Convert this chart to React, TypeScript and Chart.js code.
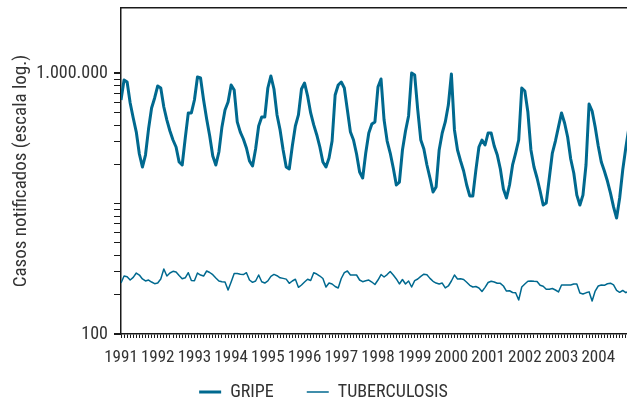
import React, { useEffect, useRef } from 'react';
import { Chart, registerables } from 'chart.js';

Chart.register(...registerables);

const years = ['1991', '1992', '1993', '1994', '1995', '1996', '1997', '1998', '1999', '2000', '2001', '2002', '2003', '2004'];
const seriesNames = ['GRIPE', 'TUBERCULOSIS'];

// Monthly notified cases, Jan 1991 - Dec 2004
const gripe = [
  388000, 787000, 733000, 349000, 206000, 125000, 57700, 36400, 55600, 139000, 293000, 417000,
  637000, 593000, 303000, 191000, 130000, 94500, 73800, 43400, 39100, 101000, 246000, 246000,
  388000, 875000, 843000, 388000, 199000, 109000, 53700, 39100, 61800, 150000, 273000, 361000,
  659000, 552000, 179000, 125000, 97900, 71300, 45000, 37800, 68800, 155000, 213000, 213000,
  593000, 906000, 572000, 229000, 135000, 66400, 36400, 33900, 76400, 155000, 229000, 572000,
  708000, 447000, 246000, 161000, 113000, 73800, 43400, 36400, 50000, 91200, 463000, 659000,
  733000, 593000, 273000, 125000, 94500, 57700, 30500, 24700, 59700, 121000, 166000, 179000,
  614000, 815000, 191000, 91200, 59700, 35200, 19300, 21400, 66400, 130000, 221000, 1007000,
  938000, 273000, 94500, 68800, 39100, 24700, 15100, 18000, 66400, 121000, 179000, 325000,
  972000, 135000, 66400, 45000, 31600, 19300, 13100, 13100, 32700, 73800, 94500, 79200,
  121000, 121000, 76400, 55600, 33900, 16700, 12200, 19300, 39100, 59700, 94500, 593000,
  533000, 254000, 66400, 36400, 24700, 15600, 9500, 10200, 24700, 59700, 91200, 150000,
  246000, 172000, 105000, 48300, 29500, 13500, 9500, 13500, 39100, 337000, 263000, 150000,
  76400, 43400, 31600, 22200, 14500, 8900, 6000, 12200, 32700, 71300, 144000, 229000,
];

const tuberculosis = [
  605, 775, 756, 673, 740, 862, 803, 698, 650, 673, 627, 592,
  605, 698, 993, 775, 862, 915, 893, 789, 705, 728, 871, 661,
  657, 862, 803, 775, 925, 877, 811, 723, 650, 634, 627, 473,
  627, 847, 847, 823, 817, 871, 673, 620, 650, 803, 634, 605,
  654, 767, 820, 783, 728, 713, 694, 599, 650, 691, 520, 564,
  627, 691, 661, 871, 832, 775, 710, 526, 605, 585, 535, 508,
  710, 871, 925, 803, 803, 803, 673, 634, 654, 673, 627, 574,
  673, 817, 748, 815, 910, 803, 698, 585, 685, 585, 650, 526,
  657, 698, 767, 826, 809, 713, 643, 605, 585, 605, 508, 545,
  650, 803, 698, 705, 685, 622, 558, 526, 535, 508, 448, 520,
  616, 645, 627, 599, 599, 545, 456, 461, 433, 430, 332, 526,
  585, 645, 650, 643, 639, 560, 540, 487, 485, 499, 473, 441,
  564, 564, 564, 564, 585, 585, 425, 411, 428, 443, 321, 456,
  545, 564, 558, 589, 601, 566, 468, 436, 465, 430, 456, 441,
];

const yLabelValues = [100, 1000000];
const yLabelTexts = ['100', '1.000.000'];
const yTitle = 'Casos notificados (escala log.)';

const LINE = '#00698f';
const TEXT = '#333333';
const AXIS = '#1a1a1a';
const FONT = "'Roboto Condensed', 'DejaVu Sans Condensed', 'Liberation Sans', sans-serif";
const X_MAX = 165.4;

// nudges the legend box to where the reference places it
const legendNudge = {
  id: 'legendNudge',
  afterLayout(chart: any) {
    const l = chart.legend;
    if (!l) return;
    l.left += 10;
    l.right += 10;
    l.top -= 14;
  },
};

export default function App() {
  const ref = useRef<HTMLCanvasElement | null>(null);

  useEffect(() => {
    if (!ref.current) return;
    Chart.defaults.font.family = FONT;
    const chart = new Chart(ref.current, {
      type: 'line',
      data: {
        datasets: [
          {
            label: seriesNames[0],
            data: gripe.map((v, i) => ({ x: i, y: v })),
            borderColor: LINE,
            backgroundColor: LINE,
            borderWidth: 3,
            pointRadius: 0,
            tension: 0,
            borderJoinStyle: 'round',
            xAxisID: 'x',
          },
          {
            label: seriesNames[1],
            data: tuberculosis.map((v, i) => ({ x: i, y: v })),
            borderColor: LINE,
            backgroundColor: LINE,
            borderWidth: 1.5,
            pointRadius: 0,
            tension: 0,
            borderJoinStyle: 'round',
            xAxisID: 'x',
          },
        ],
      },
      plugins: [legendNudge],
      options: {
        animation: false,
        responsive: false,
        devicePixelRatio: 1,
        layout: { padding: { top: 8, left: 0, right: 0, bottom: 0 } },
        plugins: {
          legend: {
            position: 'bottom',
            maxHeight: 35,
            labels: {
              usePointStyle: true,
              pointStyle: 'line',
              pointStyleWidth: 22,
              padding: 33,
              color: TEXT,
              font: { size: 18, family: FONT },
            },
          },
          tooltip: { enabled: false },
        },
        scales: {
          x: {
            type: 'linear',
            position: 'bottom',
            min: 0,
            max: X_MAX,
            afterBuildTicks: (s: any) => {
              const t = [];
              for (let i = 0; i <= Math.floor(X_MAX); i++) t.push({ value: i });
              s.ticks = t;
            },
            afterFit: (s: any) => {
              s.height = 30;
              s.paddingLeft = 0;
              s.paddingRight = 0;
            },
            grid: { drawOnChartArea: false, drawTicks: true, tickLength: 4, color: AXIS, lineWidth: 1 },
            border: { display: true, color: AXIS, width: 1.5 },
            ticks: {
              autoSkip: false,
              maxRotation: 0,
              minRotation: 0,
              padding: 10,
              color: TEXT,
              font: { size: 17, family: FONT },
              callback: (v: any) => {
                const i = Number(v);
                return i % 12 === 0 ? years[i / 12] : '';
              },
            },
          },
          x2: {
            type: 'linear',
            position: 'top',
            min: 0,
            max: X_MAX,
            ticks: { display: false },
            grid: { display: false, drawTicks: false },
            border: { display: true, color: AXIS, width: 1.5 },
            afterFit: (s: any) => {
              s.height = 0;
              s.paddingLeft = 0;
              s.paddingRight = 0;
            },
          },
          y: {
            type: 'logarithmic',
            min: 100,
            max: 10000000,
            afterBuildTicks: (s: any) => {
              const t = [];
              for (let k = 1; k <= 10; k++) t.push({ value: 100 * k * k });
              for (let k = 2; k <= 10; k++) t.push({ value: 10000 * k * k });
              s.ticks = t;
            },
            afterFit: (s: any) => {
              s.width = 121;
              s.paddingTop = 0;
              s.paddingBottom = 0;
            },
            grid: {
              drawOnChartArea: false,
              drawTicks: true,
              tickLength: 7,
              color: AXIS,
              lineWidth: (ctx: any) => (ctx.tick && yLabelValues.includes(ctx.tick.value) ? 2 : 1),
            },
            border: { display: true, color: AXIS, width: 1.5 },
            ticks: {
              autoSkip: false,
              padding: 6,
              color: TEXT,
              font: { size: 18, family: FONT },
              callback: (v: any) => {
                const idx = yLabelValues.indexOf(Number(v));
                return idx >= 0 ? yLabelTexts[idx] : '';
              },
            },
            title: {
              display: true,
              text: yTitle,
              color: TEXT,
              font: { size: 19, family: FONT },
              padding: { top: 10, bottom: 0 },
            },
          },
        },
      },
    });
    return () => chart.destroy();
  }, []);

  return (
    <div style={{ position: 'absolute', left: 0, top: 0, width: 627, height: 399, background: '#fff' }}>
      <canvas ref={ref} width={627} height={399} style={{ display: 'block', width: 627, height: 399 }} />
    </div>
  );
}
